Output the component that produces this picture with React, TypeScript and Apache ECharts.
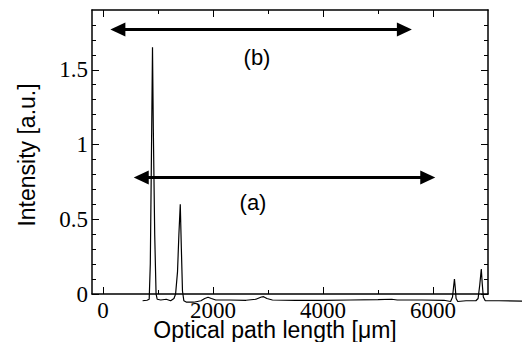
import React, { useEffect, useRef } from "react";
import * as echarts from "echarts";

// Optical path length [μm]
const pathLength = [
  720, 800, 840, 860, 880, 900, 915, 940, 965, 985, 1050, 1150, 1230, 1290, 1320, 1355, 1380, 1405,
  1425, 1445, 1470, 1520, 1650, 1780, 1850, 1910, 1970, 2050, 2300, 2600, 2780, 2880, 2920, 2980,
  3080, 3500, 4000, 4500, 5000, 5250, 5350, 5800, 6200, 6320, 6355, 6375, 6390, 6405, 6420, 6450,
  6600, 6780, 6820, 6850, 6878, 6895, 6915, 6950, 7200, 7640,
];
// Intensity [a.u.]
const intensity = [
  -0.045, -0.042, -0.035, 0.2, 0.9, 1.65, 1.1, 0.4, 0.0, -0.035, -0.04, -0.035, -0.045, -0.03, 0.0,
  0.15, 0.4, 0.6, 0.3, 0.02, -0.045, -0.055, -0.055, -0.045, -0.03, -0.022, -0.03, -0.04, -0.04,
  -0.042, -0.035, -0.02, -0.018, -0.03, -0.04, -0.042, -0.043, -0.04, -0.038, -0.035, -0.04, -0.04,
  -0.042, -0.05, -0.02, 0.05, 0.1, 0.04, -0.03, -0.05, -0.045, -0.045, -0.03, 0.06, 0.167, 0.07,
  -0.02, -0.045, -0.045, -0.048,
];

const xMajorTicks = [0, 2000, 4000, 6000];
const xMinorTicks = [1000, 3000, 5000];
const yMajorTicks = [0, 0.5, 1, 1.5];
const yMinorTicks = [0.1, 0.2, 0.3, 0.4, 0.6, 0.7, 0.8, 0.9, 1.1, 1.2, 1.3, 1.4, 1.6, 1.7, 1.8];

// Range arrows: [start, end, intensity level]
const arrowB = [270, 5480, 1.77];
const arrowA = [695, 5905, 0.78];

const X_MIN = -200;
const X_MAX = 7000;
const Y_MIN = 0;
const Y_MAX = 1.9;

const SERIF = "Liberation Serif";
const SANS = "Liberation Sans";

const W = 522;
const H = 342;
const G_LEFT = 92;
const G_RIGHT = 34;
const G_TOP = 10;
const G_BOTTOM = 48;

export default function App() {
  const ref = useRef<HTMLDivElement>(null);

  useEffect(() => {
    if (!ref.current) return;
    const chart = echarts.init(ref.current, undefined, { renderer: "svg" });
    const black = "#000";
    const labelFont = { fontFamily: SERIF, fontSize: 23, color: black };
    const fmt = (v: number) => String(v);

    // The trace runs past the frame on the right, so it lives in a wider, axis-less
    // grid that shares the frame's scale (same px per μm).
    const frameW = W - G_LEFT - G_RIGHT;
    const wideW = W - G_LEFT;
    const X_MAX_WIDE = X_MIN + ((X_MAX - X_MIN) * wideW) / frameW;

    const xAxisBase = (position: string, ticks: number[], len: number, withLine: boolean, labels: boolean) => ({
      type: "value",
      gridIndex: 0,
      min: X_MIN,
      max: X_MAX,
      position,
      axisLine: { show: withLine, onZero: false, lineStyle: { color: black, width: 1.5 } },
      axisTick: { show: true, inside: true, length: len, customValues: ticks, lineStyle: { color: black, width: 1 } },
      axisLabel: labels
        ? { show: true, customValues: ticks, margin: 8, lineHeight: 16, formatter: fmt, ...labelFont }
        : { show: false },
      splitLine: { show: false },
    });
    const yAxisBase = (position: string, ticks: number[], len: number, withLine: boolean, labels: boolean) => ({
      type: "value",
      gridIndex: 0,
      min: Y_MIN,
      max: Y_MAX,
      position,
      axisLine: { show: withLine, onZero: false, lineStyle: { color: black, width: 1.5 } },
      axisTick: { show: true, inside: true, length: len, customValues: ticks, lineStyle: { color: black, width: 1 } },
      axisLabel: labels
        ? { show: true, customValues: ticks, margin: 4, formatter: fmt, ...labelFont }
        : { show: false },
      splitLine: { show: false },
    });

    const data = pathLength.map((x, i) => [x, intensity[i]]);

    chart.setOption({
      animation: false,
      backgroundColor: "#fff",
      grid: [
        { left: G_LEFT, right: G_RIGHT, top: G_TOP, bottom: G_BOTTOM, containLabel: false },
        { left: G_LEFT, right: 0, top: G_TOP, bottom: G_BOTTOM, containLabel: false },
      ],
      xAxis: [
        xAxisBase("bottom", xMajorTicks, 7, true, true),
        xAxisBase("bottom", xMinorTicks, 4, false, false),
        xAxisBase("top", xMajorTicks, 7, true, false),
        xAxisBase("top", xMinorTicks, 4, false, false),
        {
          type: "value",
          gridIndex: 1,
          min: X_MIN,
          max: X_MAX_WIDE,
          show: false,
        },
      ],
      yAxis: [
        yAxisBase("left", yMajorTicks, 7, true, true),
        yAxisBase("left", yMinorTicks, 4, false, false),
        yAxisBase("right", yMajorTicks, 7, true, false),
        yAxisBase("right", yMinorTicks, 4, false, false),
        {
          type: "value",
          gridIndex: 1,
          min: Y_MIN,
          max: Y_MAX,
          show: false,
        },
      ],
      series: [
        {
          type: "line",
          xAxisIndex: 4,
          yAxisIndex: 4,
          data,
          showSymbol: false,
          clip: false,
          lineStyle: { color: black, width: 1.2 },
          markLine: {
            silent: true,
            symbol: ["triangle", "triangle"],
            symbolSize: [14, 15],
            lineStyle: { color: black, width: 3, type: "solid" },
            itemStyle: { color: black },
            label: { show: false },
            data: [
              [{ coord: [arrowB[0], arrowB[2]] }, { coord: [arrowB[1], arrowB[2]] }],
              [{ coord: [arrowA[0], arrowA[2]] }, { coord: [arrowA[1], arrowA[2]] }],
            ],
          },
        },
      ],
      graphic: [
        {
          type: "text",
          x: 27,
          y: 155,
          rotation: Math.PI / 2,
          style: {
            text: "Intensity [a.u.]",
            fontFamily: SANS,
            fontSize: 23,
            fill: black,
            align: "center",
            verticalAlign: "middle",
          },
        },
        {
          type: "text",
          x: 275,
          y: 330,
          style: {
            text: "Optical path length [μm]",
            fontFamily: SANS,
            fontSize: 23,
            lineHeight: 18,
            fill: black,
            align: "center",
            verticalAlign: "middle",
          },
        },
        {
          type: "text",
          x: 257,
          y: 57,
          style: {
            text: "(b)",
            fontFamily: SANS,
            fontSize: 22,
            fill: black,
            align: "center",
            verticalAlign: "middle",
          },
        },
        {
          type: "text",
          x: 253,
          y: 202,
          style: {
            text: "(a)",
            fontFamily: SANS,
            fontSize: 22,
            fill: black,
            align: "center",
            verticalAlign: "middle",
          },
        },
      ],
    });

    return () => chart.dispose();
  }, []);

  return (
    <div
      ref={ref}
      style={{ position: "fixed", left: 0, top: 0, width: W, height: H }}
    />
  );
}
